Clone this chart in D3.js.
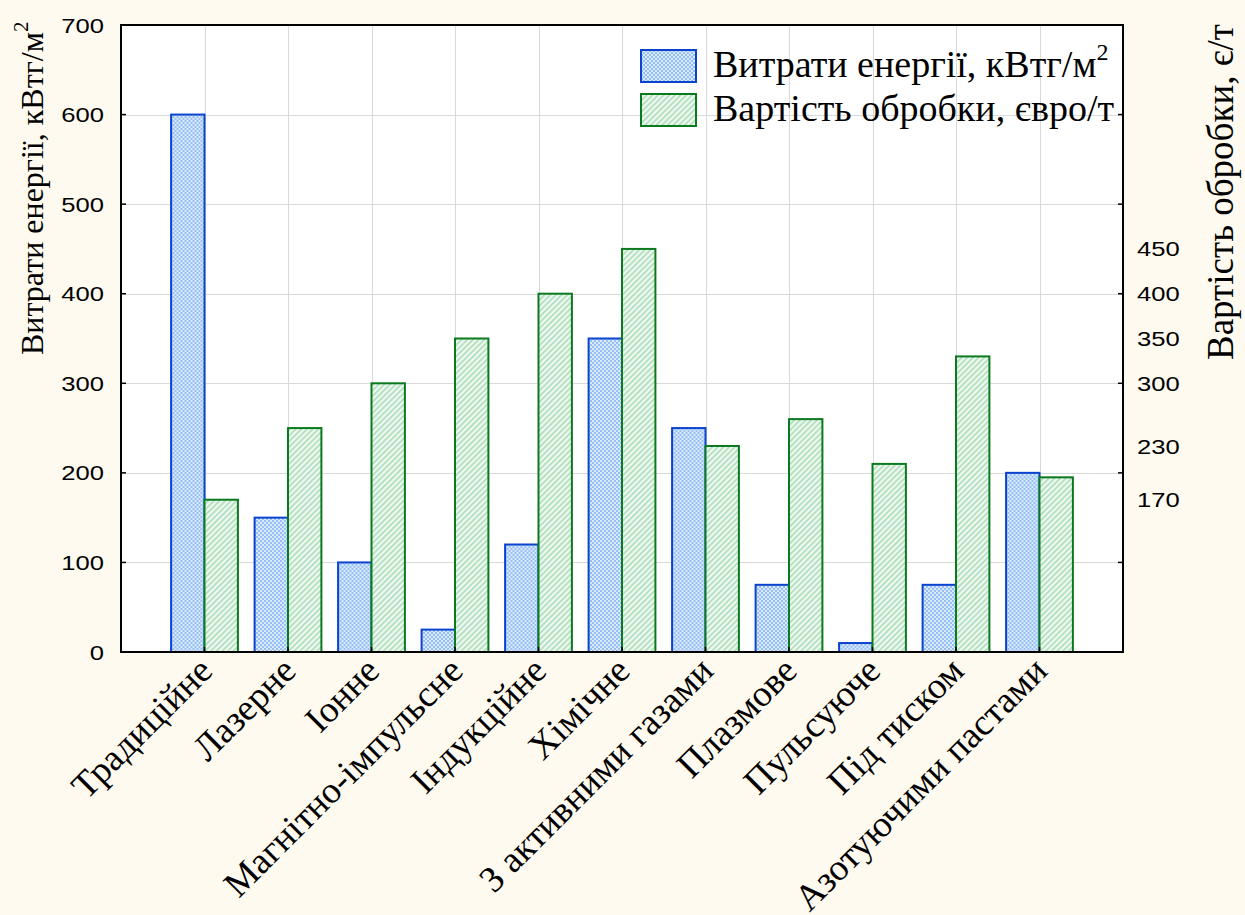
<!DOCTYPE html>
<html>
<head>
<meta charset="utf-8">
<script src="https://cdn.jsdelivr.net/npm/d3@7"></script>
<style>
  html, body { margin: 0; padding: 0; background: #fefaef; }
  svg { display: block; }
</style>
</head>
<body>
<svg id="chart" width="1245" height="915"></svg>
<script>
// Methods of surface treatment
const categories = [
  "Традиційне", "Лазерне", "Іонне", "Магнітно-імпульсне", "Індукційне",
  "Хімічне", "З активними газами", "Плазмове", "Пульсуюче", "Під тиском",
  "Азотуючими пастами"
];
// Energy consumption, kWh/m²
const energy = [600, 150, 100, 25, 120, 350, 250, 75, 10, 75, 200];
// Processing cost, €/t
const cost = [170, 250, 300, 350, 400, 450, 230, 260, 210, 330, 195];

const leftTicks = [0, 100, 200, 300, 400, 500, 600, 700];
const rightTickMarks = [100, 200, 300, 400, 500, 600];
const rightTickLabels = [450, 400, 350, 300, 230, 170];

const seriesNames = ["energy", "cost"];

const W = 1245, H = 915;
const plot = { left: 121, right: 1123, top: 25, bottom: 652 };

const svg = d3.select("#chart");

// fill patterns
const defs = svg.append("defs");
const pb = defs.append("pattern").attr("id", "checkBlue")
  .attr("width", 4).attr("height", 4).attr("patternUnits", "userSpaceOnUse");
pb.append("rect").attr("width", 4).attr("height", 4).attr("fill", "#dce9fc");
pb.append("rect").attr("width", 2).attr("height", 2).attr("fill", "#94bff4");
pb.append("rect").attr("x", 2).attr("y", 2).attr("width", 2).attr("height", 2).attr("fill", "#94bff4");

const pg = defs.append("pattern").attr("id", "hatchGreen")
  .attr("width", 4).attr("height", 4).attr("patternUnits", "userSpaceOnUse")
  .attr("patternTransform", "rotate(-45)");
pg.append("rect").attr("width", 4).attr("height", 4).attr("fill", "#eff9f1");
pg.append("rect").attr("width", 4).attr("height", 1.6).attr("fill", "#a9dcb8");

const fills = { energy: "url(#checkBlue)", cost: "url(#hatchGreen)" };
const strokes = { energy: "#0b43cf", cost: "#0b7a1f" };

// scales
const x = d3.scalePoint().domain(categories).range([plot.left, plot.right]).padding(1);
const barW = x.step() * 0.4;
const xs = d3.scaleBand().domain(seriesNames).range([-barW, barW]).padding(0);
const y = d3.scaleLinear().domain([0, 700]).range([plot.bottom, plot.top]);

// plot background
svg.append("rect")
  .attr("x", plot.left).attr("y", plot.top)
  .attr("width", plot.right - plot.left).attr("height", plot.bottom - plot.top)
  .attr("fill", "#ffffff");

// grid
const grid = svg.append("g").attr("stroke", "#d9d9d9").attr("stroke-width", 1);
grid.selectAll("line.h").data(leftTicks.slice(1, -1)).join("line")
  .attr("x1", plot.left).attr("x2", plot.right)
  .attr("y1", d => Math.round(y(d)) + 0.5).attr("y2", d => Math.round(y(d)) + 0.5);
grid.selectAll("line.v").data(categories).join("line")
  .attr("x1", d => Math.round(x(d)) + 0.5).attr("x2", d => Math.round(x(d)) + 0.5)
  .attr("y1", plot.top).attr("y2", plot.bottom);

// bars
const rows = categories.map((c, i) => ({ c, energy: energy[i], cost: cost[i] }));
const groups = svg.append("g").selectAll("g").data(rows).join("g")
  .attr("transform", d => `translate(${x(d.c)},0)`);
groups.selectAll("rect").data(d => seriesNames.map(k => ({ k, v: d[k] }))).join("rect")
  .attr("x", d => xs(d.k))
  .attr("width", xs.bandwidth())
  .attr("y", d => y(d.v))
  .attr("height", d => y(0) - y(d.v))
  .attr("fill", d => fills[d.k])
  .attr("stroke", d => strokes[d.k])
  .attr("stroke-width", 2);

// frame
svg.append("rect")
  .attr("x", plot.left).attr("y", plot.top)
  .attr("width", plot.right - plot.left).attr("height", plot.bottom - plot.top)
  .attr("fill", "none").attr("stroke", "#000").attr("stroke-width", 2);

// tick marks (inward)
const ticks = svg.append("g").attr("stroke", "#000").attr("stroke-width", 1.5);
ticks.selectAll("line.l").data(leftTicks).join("line")
  .attr("x1", plot.left).attr("x2", plot.left + 5)
  .attr("y1", d => y(d)).attr("y2", d => y(d));
ticks.selectAll("line.r").data(rightTickMarks).join("line")
  .attr("x1", plot.right - 5).attr("x2", plot.right)
  .attr("y1", d => y(d)).attr("y2", d => y(d));
ticks.selectAll("line.b").data(categories).join("line")
  .attr("x1", d => x(d)).attr("x2", d => x(d))
  .attr("y1", plot.bottom).attr("y2", plot.bottom - 5);

// tick labels
const sans = "'Liberation Sans', Arial, sans-serif";
const serif = "'Liberation Serif', 'Times New Roman', serif";
const tickFont = 21, stretch = 1.22;

svg.append("g").selectAll("text").data(leftTicks).join("text")
  .attr("transform", d => `translate(104,${y(d)}) scale(${stretch},1)`)
  .attr("dy", "0.36em")
  .attr("text-anchor", "end")
  .attr("font-family", sans).attr("font-size", tickFont).attr("fill", "#000")
  .text(d => d);

svg.append("g").selectAll("text").data(rightTickLabels).join("text")
  .attr("transform", d => `translate(1137,${y(d)}) scale(${stretch},1)`)
  .attr("dy", "0.36em")
  .attr("text-anchor", "start")
  .attr("font-family", sans).attr("font-size", tickFont).attr("fill", "#000")
  .text(d => d);

// category labels
const catFont = 37;
svg.append("g").selectAll("text").data(categories).join("text")
  .attr("transform", d => `translate(${x(d) - 9},${plot.bottom + 2}) rotate(-45)`)
  .attr("text-anchor", "end")
  .attr("dy", "0.72em")
  .attr("font-family", serif).attr("font-size", catFont).attr("fill", "#000")
  .text(d => d);

// axis titles
const lt = svg.append("text")
  .attr("transform", "translate(43,355) rotate(-90)")
  .attr("text-anchor", "start")
  .attr("font-family", serif).attr("font-size", 32).attr("fill", "#000");
lt.append("tspan").text("Витрати енергії, кВтг/м");
lt.append("tspan").attr("font-size", 21).attr("dy", "-0.7em").text("2");

svg.append("text")
  .attr("transform", "translate(1233,360) rotate(-90)")
  .attr("text-anchor", "start")
  .attr("font-family", serif).attr("font-size", 37).attr("fill", "#000")
  .text("Вартість обробки, є/т");

// legend
const legend = [
  { k: "energy", label: "Витрати енергії, кВтг/м", sup: "2", y: 50 },
  { k: "cost", label: "Вартість обробки, євро/т", sup: null, y: 94 }
];
const lg = svg.append("g").selectAll("g").data(legend).join("g")
  .attr("transform", d => `translate(641,${d.y})`);
lg.append("rect")
  .attr("width", 55).attr("height", 32)
  .attr("fill", d => fills[d.k]).attr("stroke", d => strokes[d.k]).attr("stroke-width", 2);
const lt2 = lg.append("text")
  .attr("x", 72).attr("y", 27)
  .attr("font-family", serif).attr("font-size", 38).attr("fill", "#000");
lt2.append("tspan").text(d => d.label);
lt2.filter(d => d.sup).append("tspan").attr("font-size", 24).attr("dy", "-0.7em").text(d => d.sup);
</script>
</body>
</html>
